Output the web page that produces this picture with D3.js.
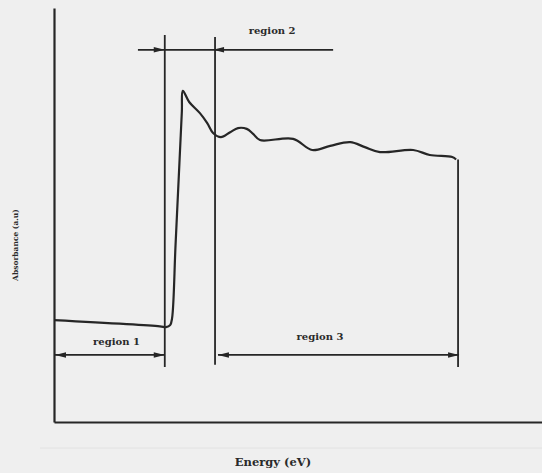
<!DOCTYPE html>
<html>
<head>
<meta charset="utf-8">
<script src="https://cdn.jsdelivr.net/npm/d3@7"></script>
<style>
  html, body { margin: 0; padding: 0; background: #efefef; }
  svg { display: block; }
  text { font-family: "DejaVu Serif", serif; font-weight: bold; fill: #2a2a2a; }
</style>
</head>
<body>
<svg id="chart" width="542" height="473"></svg>
<script>
// Absorption spectrum sketch (arbitrary units on both axes)
const energy = [0, 21.7, 22.95, 23.8, 24.2, 24.9, 25.7, 26.2, 26.4, 27.7, 29.9, 31.4, 32.6, 34.2, 36.1, 37.7, 39.5, 40.8, 42.2, 49.0, 52.9, 56.6, 60.7, 63.7, 66.8, 73.6, 77.0, 81.6, 82.4];
const absorbance = [24.6, 23.1, 22.9, 23.4, 25.1, 42.6, 62.5, 75.0, 80.0, 77.3, 74.6, 72.2, 69.8, 68.8, 70.0, 71.0, 70.8, 69.6, 68.1, 68.4, 65.7, 66.7, 67.6, 66.4, 65.2, 65.7, 64.5, 64.0, 63.4];

// Region boundaries (energy) and the vertical extent of each marker line
const boundaryEnergy = [22.7, 33.0, 82.8];
const boundaryTop = [93.5, 93.0, 63.4];
const boundaryBottom = [13.3, 13.8, 13.3];

// Region spans: [from, to] in energy, level of the span arrow, label
const regionNames = ["region 1", "region 2", "region 3"];
const regionFrom = [0.2, 22.7, 33.6];
const regionTo = [22.7, 32.6, 83.0];
const regionLevel = [16.2, 89.9, 16.2];
const regionLineFrom = [0.2, 17.2, 33.6];
const regionLineTo = [22.7, 57.2, 83.0];
const regionLabelX = [12.8, 44.7, 54.5];
const regionLabelY = [18.6, 93.8, 19.8];

const xLabel = "Energy (eV)";
const yLabel = "Absorbance (a.u)";

const svg = d3.select("#chart");
const x = d3.scaleLinear().domain([0, 100]).range([54, 542]);
const y = d3.scaleLinear().domain([0, 100]).range([422, 8]);

const ink = "#262626";

// faint scan line under the axis
svg.append("line")
  .attr("x1", 40).attr("x2", 542).attr("y1", 448).attr("y2", 448)
  .attr("stroke", "#e2e2e2").attr("stroke-width", 1);

// axes (plain lines, no ticks)
svg.append("g")
  .attr("transform", `translate(0,${y(0)})`)
  .call(d3.axisBottom(x).tickValues([]).tickSizeOuter(0))
  .call(g => g.select(".domain").attr("stroke", ink).attr("stroke-width", 2.2));
svg.append("g")
  .attr("transform", `translate(${x(0)},0)`)
  .call(d3.axisLeft(y).tickValues([]).tickSizeOuter(0))
  .call(g => g.select(".domain").attr("stroke", ink).attr("stroke-width", 2.2));

// boundary markers
svg.append("g").selectAll("line")
  .data(boundaryEnergy)
  .join("line")
  .attr("x1", d => x(d)).attr("x2", d => x(d))
  .attr("y1", (d, i) => y(boundaryTop[i]))
  .attr("y2", (d, i) => y(boundaryBottom[i]))
  .attr("stroke", ink).attr("stroke-width", 1.8);

// spectrum
const pts = energy.map((e, i) => [e, absorbance[i]]);
svg.append("path")
  .datum(pts)
  .attr("fill", "none")
  .attr("stroke", ink)
  .attr("stroke-width", 2.2)
  .attr("stroke-linejoin", "round")
  .attr("d", d3.line().x(d => x(d[0])).y(d => y(d[1])).curve(d3.curveCatmullRom.alpha(0.5)));

// arrowhead: tip at (tx,ty), pointing in direction dir (+1 right, -1 left)
function arrowHead(g, tx, ty, dir) {
  const len = 11, half = 2.8;
  g.append("path")
    .attr("d", `M${tx},${ty}L${tx - dir * len},${ty - half}L${tx - dir * len},${ty + half}Z`)
    .attr("fill", ink);
}

const spans = svg.append("g");
regionNames.forEach((name, i) => {
  const ly = y(regionLevel[i]);
  spans.append("line")
    .attr("x1", x(regionLineFrom[i])).attr("x2", x(regionLineTo[i]))
    .attr("y1", ly).attr("y2", ly)
    .attr("stroke", ink).attr("stroke-width", 1.8);
  if (i === 1) {
    // arrows point inward from outside the span
    arrowHead(spans, x(regionFrom[i]), ly, 1);
    arrowHead(spans, x(regionTo[i]), ly, -1);
  } else {
    arrowHead(spans, x(regionFrom[i]), ly, -1);
    arrowHead(spans, x(regionTo[i]), ly, 1);
  }
  spans.append("text")
    .attr("x", x(regionLabelX[i])).attr("y", y(regionLabelY[i]))
    .attr("text-anchor", "middle")
    .attr("font-size", 10)
    .text(name);
});

// axis titles
svg.append("text")
  .attr("x", 273).attr("y", 466)
  .attr("text-anchor", "middle")
  .attr("font-size", 11.5)
  .text(xLabel);
svg.append("text")
  .attr("transform", "translate(18,245) rotate(-90)")
  .attr("text-anchor", "middle")
  .attr("font-size", 7.5)
  .text(yLabel);
</script>
</body>
</html>
